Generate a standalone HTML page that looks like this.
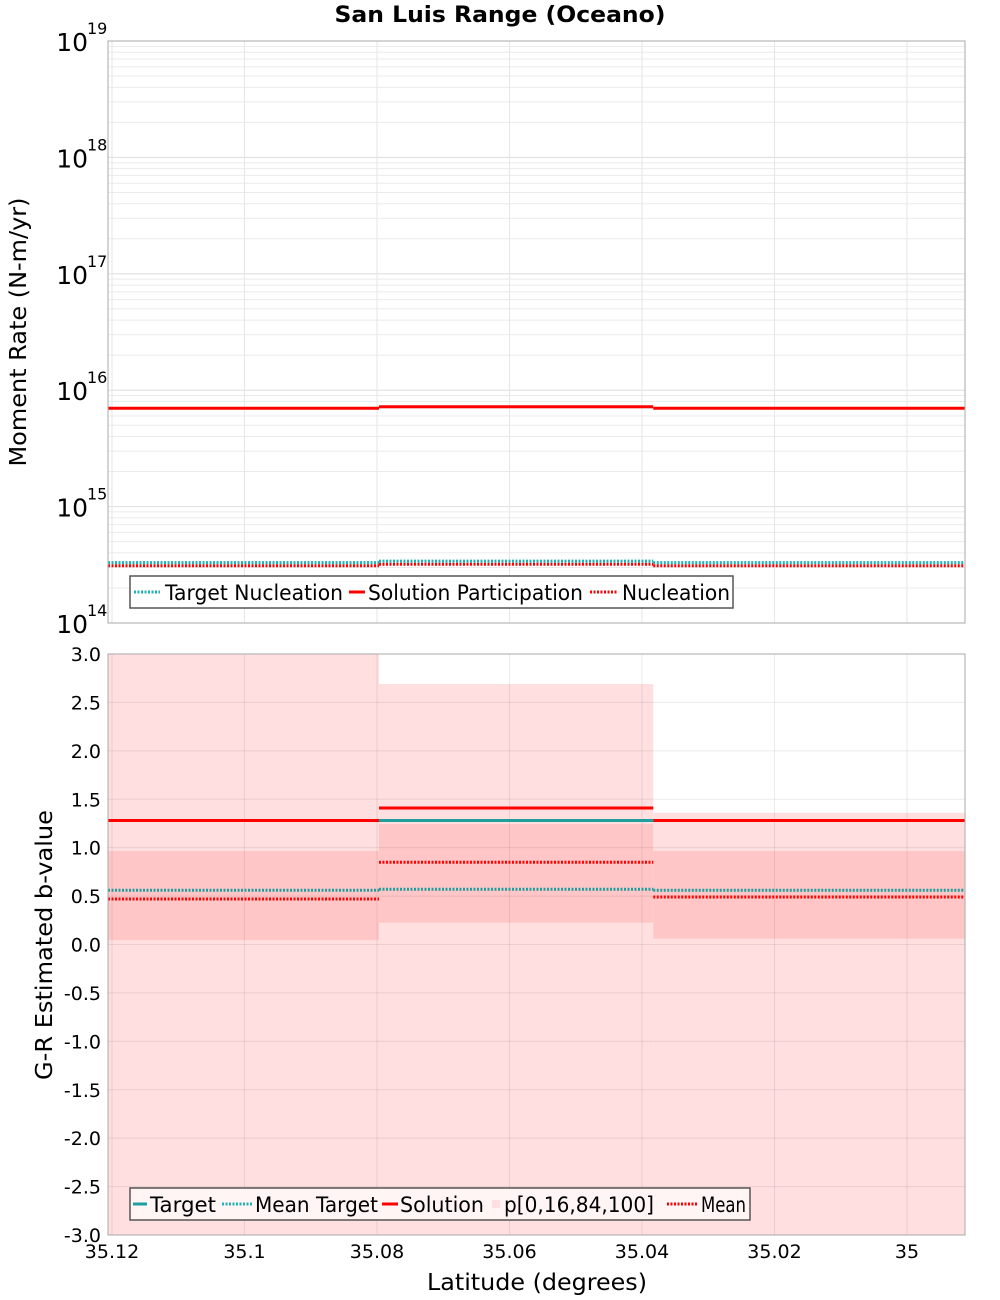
<!DOCTYPE html>
<html><head><meta charset="utf-8"><style>
body{margin:0;background:#fff;}
svg{display:block;font-family:"DejaVu Sans","Liberation Sans",sans-serif;}
</style></head><body>
<svg id="chart" width="1000" height="1300"></svg>
<script>
// ---- data ----
const segStarts=[35.1206,35.0797,35.0383];
const segEnds=[35.0797,35.0383,34.9913];
const solutionPart=[7.0e15,7.2e15,7.0e15];
const targetNucl=[3.3e14,3.4e14,3.3e14];
const nucleation=[3.1e14,3.2e14,3.1e14];
const bTarget=[1.28,1.28,1.28];
const bMeanTarget=[0.56,0.57,0.56];
const bSolution=[1.28,1.41,1.28];
const bMean=[0.47,0.85,0.49];
const bP0=[-3.0,-3.0,-3.0];
const bP16=[0.045,0.225,0.06];
const bP84=[0.965,1.245,0.965];
const bP100=[3.0,2.69,1.36];
const xTicks=[35.12,35.1,35.08,35.06,35.04,35.02,35];
const xTickLabels=["35.12","35.1","35.08","35.06","35.04","35.02","35"];
const logTicks=[14,15,16,17,18,19];
const bTicks=[3,2.5,2,1.5,1,0.5,0,-0.5,-1,-1.5,-2,-2.5,-3];

const NS="http://www.w3.org/2000/svg";
const svg=document.getElementById('chart');
function mk(tag,attrs,parent){const e=document.createElementNS(NS,tag);for(const k in attrs)e.setAttribute(k,attrs[k]);(parent||svg).appendChild(e);return e;}
const L=108,R=965,T1=41,B1=623,T2=654,B2=1235;
const X=v=>112+(35.12-v)*6625;
const Y1=v=>B1-(Math.log10(v)-14)*(B1-T1)/5;
const Y2=v=>T2+(3-v)*(B2-T2)/6;

// title
let t=mk('text',{x:500,y:22,'text-anchor':'middle','font-size':22,'font-weight':'bold',textLength:331,lengthAdjust:'spacingAndGlyphs'});
t.textContent='San Luis Range (Oceano)';



// ---- top panel ----
let g1=mk('g',{});


mk('rect',{x:L,y:T1,width:R-L,height:B1-T1,fill:'#fff'},g1);
for(let d=14;d<19;d++){for(let m=2;m<10;m++){const y=Y1(m*Math.pow(10,d));mk('line',{x1:L,x2:R,y1:y,y2:y,stroke:'#ebebeb','stroke-width':1},g1);}}
logTicks.forEach(d=>{const y=Y1(Math.pow(10,d));mk('line',{x1:L,x2:R,y1:y,y2:y,stroke:'#dedede'},g1);
 const tx=mk('text',{x:88,y:y+10,'text-anchor':'end','font-size':25},g1);tx.textContent='10';
 
 
 const ex=mk('text',{x:87,y:y-7,'font-size':16},g1);ex.textContent=String(d);});
xTicks.forEach(v=>{mk('line',{x1:X(v),x2:X(v),y1:T1,y2:B1,stroke:'#e6e6e6'},g1);});
function segLines(g,vals,Y,color,w,dash,name){vals.forEach((v,i)=>{const l=mk('line',{x1:X(segStarts[i]),x2:X(segEnds[i]),y1:Y(v),y2:Y(v),stroke:color,'stroke-width':w},g);if(dash)l.setAttribute('stroke-dasharray',dash);
 
 });}
segLines(g1,targetNucl,Y1,'#1fb3b3',3,'2,1.5','target-nucleation-line');
segLines(g1,nucleation,Y1,'#ff0000',3,'2,1.5','nucleation-line');
segLines(g1,solutionPart,Y1,'#ff0000',3,null,'solution-participation-line');
mk('rect',{x:L,y:T1,width:R-L,height:B1-T1,fill:'none',stroke:'#aaa'},g1);
let yt1=mk('text',{x:0,y:0,transform:'translate(26,332) rotate(-90)','text-anchor':'middle','font-size':23,textLength:269,lengthAdjust:'spacingAndGlyphs'});
yt1.textContent='Moment Rate (N-m/yr)';


// legend top
let lg1=mk('g',{});


mk('rect',{x:130,y:576,width:603,height:32,fill:'#fff',stroke:'#555','stroke-width':1.5},lg1);
[[134,26,'#1fb3b3','2,1.5','Target Nucleation',165,178],[349,16,'#ff0000',null,'Solution Participation',368,215],[590,27,'#ff0000','2,1.5','Nucleation',622,108]].forEach(a=>{
 const l=mk('line',{x1:a[0],x2:a[0]+a[1],y1:592,y2:592,stroke:a[2],'stroke-width':3},lg1);if(a[3])l.setAttribute('stroke-dasharray',a[3]);
 const tx=mk('text',{x:a[5],y:600,'font-size':21,textLength:a[6],lengthAdjust:'spacingAndGlyphs'},lg1);tx.textContent=a[4];});

// ---- bottom panel ----
let g2=mk('g',{});


mk('rect',{x:L,y:T2,width:R-L,height:B2-T2,fill:'#fff'},g2);
segStarts.forEach((s,i)=>{const x1=X(s),x2=X(segEnds[i]);
 const o=mk('rect',{x:x1,y:Y2(bP100[i]),width:x2-x1,height:Y2(bP0[i])-Y2(bP100[i]),fill:'#ffdfe0'},g2);
 
 
 const n=mk('rect',{x:x1,y:Y2(bP84[i]),width:x2-x1,height:Y2(bP16[i])-Y2(bP84[i]),fill:'#ffc6c7'},g2);
 
 });
bTicks.forEach(v=>{const y=Y2(v);mk('line',{x1:L,x2:R,y1:y,y2:y,stroke:'rgba(0,0,0,0.08)'},g2);
 const tx=mk('text',{x:101,y:y+7,'text-anchor':'end','font-size':19},g2);tx.textContent=v.toFixed(1);
 
 });
xTicks.forEach((v,i)=>{mk('line',{x1:X(v),x2:X(v),y1:T2,y2:B2,stroke:'rgba(0,0,0,0.08)'},g2);
 const tx=mk('text',{x:X(v),y:1258,'text-anchor':'middle','font-size':19},g2);tx.textContent=xTickLabels[i];
 
 });
segLines(g2,bMeanTarget,Y2,'#1f9e9e',3,'2,1.5','mean-target-line');
segLines(g2,bMean,Y2,'#ff0000',3,'2,1.5','mean-line');
segLines(g2,bTarget,Y2,'#1f9e9e',3,null,'target-line');
segLines(g2,bSolution,Y2,'#ff0000',3,null,'solution-line');
bTarget.forEach((v,i)=>{if(Math.abs(v-bSolution[i])>0.001){const l=mk('line',{x1:X(segStarts[i]),x2:X(segEnds[i]),y1:Y2(v),y2:Y2(v),stroke:'#1f9e9e','stroke-width':3},g2);
 
 }});
mk('rect',{x:L,y:T2,width:R-L,height:B2-T2,fill:'none',stroke:'#aaa'},g2);
let yt2=mk('text',{x:0,y:0,transform:'translate(52,945) rotate(-90)','text-anchor':'middle','font-size':23,textLength:270,lengthAdjust:'spacingAndGlyphs'});
yt2.textContent='G-R Estimated b-value';


let xt=mk('text',{x:537,y:1290,'text-anchor':'middle','font-size':23,textLength:220,lengthAdjust:'spacingAndGlyphs'});
xt.textContent='Latitude (degrees)';


// legend bottom
let lg2=mk('g',{});


mk('rect',{x:130,y:1188,width:620,height:32,fill:'#fff5f5',stroke:'#555','stroke-width':1.5},lg2);
[[133,14,'#1f9e9e',null,'Target',150,66,3],[222,30,'#1fb3b3','2,1.5','Mean Target',255,123,3],[382,16,'#ff0000',null,'Solution',400,84,3],[492,8,'#ffdfe0',null,'p[0,16,84,100]',504,150,8],[667,31,'#ff0000','2,1.5','Mean',701,45,3]].forEach(a=>{
 const l=mk('line',{x1:a[0],x2:a[0]+a[1],y1:1204,y2:1204,stroke:a[2],'stroke-width':a[7]},lg2);if(a[3])l.setAttribute('stroke-dasharray',a[3]);
 const tx=mk('text',{x:a[5],y:1212,'font-size':21,textLength:a[6],lengthAdjust:'spacingAndGlyphs'},lg2);tx.textContent=a[4];});
</script>
</body></html>
